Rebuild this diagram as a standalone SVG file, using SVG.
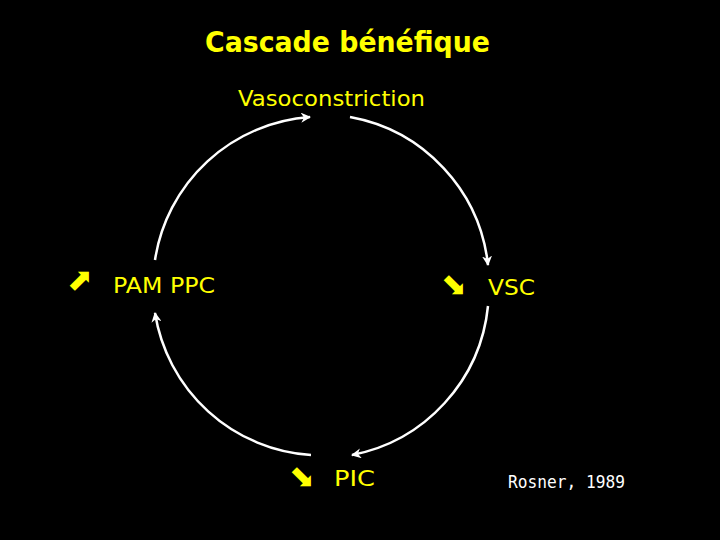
<svg xmlns="http://www.w3.org/2000/svg" width="720" height="540" viewBox="0 0 720 540">
<defs>
<style>
.y{fill:#FFFF00;font-family:"DejaVu Sans","Liberation Sans",sans-serif}
.c{fill:none;stroke:#FFFFFF;stroke-width:2.5}
.ar{fill:#FFFF00;font-family:"DejaVu Sans",sans-serif;font-size:31px}
</style>
<marker id="ah" viewBox="0 0 10 10" refX="9" refY="5" markerWidth="4" markerHeight="4" orient="auto" markerUnits="strokeWidth">
<path d="M0,0 L10,5 L0,10 L3,5 Z" fill="#FFFFFF"/>
</marker>
</defs>
<rect width="720" height="540" fill="#000000"/>
<text class="y" x="205" y="52" font-size="28" font-weight="bold" textLength="285" lengthAdjust="spacingAndGlyphs">Cascade bénéfique</text>
<g id="vaso"><text class="y" x="238" y="106" font-size="22" textLength="187" lengthAdjust="spacingAndGlyphs">Vasoconstriction</text></g>
<g id="pam"><text class="ar" x="67" y="290">⬈</text><text class="y" x="113" y="293" font-size="22" textLength="102" lengthAdjust="spacingAndGlyphs">PAM PPC</text></g>
<g id="vsc"><text class="ar" x="441" y="295">⬊</text><text class="y" x="488" y="295" font-size="22" textLength="47" lengthAdjust="spacingAndGlyphs">VSC</text></g>
<g id="pic"><text class="ar" x="289" y="487">⬊</text><text class="y" x="334" y="486" font-size="22" textLength="41" lengthAdjust="spacingAndGlyphs">PIC</text></g>
<text x="508" y="488" fill="#FFFFFF" font-family="DejaVu Sans Mono,monospace" font-size="17" textLength="117" lengthAdjust="spacingAndGlyphs">Rosner, 1989</text>
<g id="connectors">
<path class="c" d="M155,260 A169,169 0 0 1 310,117" marker-end="url(#ah)"/>
<path class="c" d="M350,117 A169,169 0 0 1 488,265" marker-end="url(#ah)"/>
<path class="c" d="M488,306 A169,169 0 0 1 352,455" marker-end="url(#ah)"/>
<path class="c" d="M311,455 A169,169 0 0 1 155,313" marker-end="url(#ah)"/>
</g>
</svg>
